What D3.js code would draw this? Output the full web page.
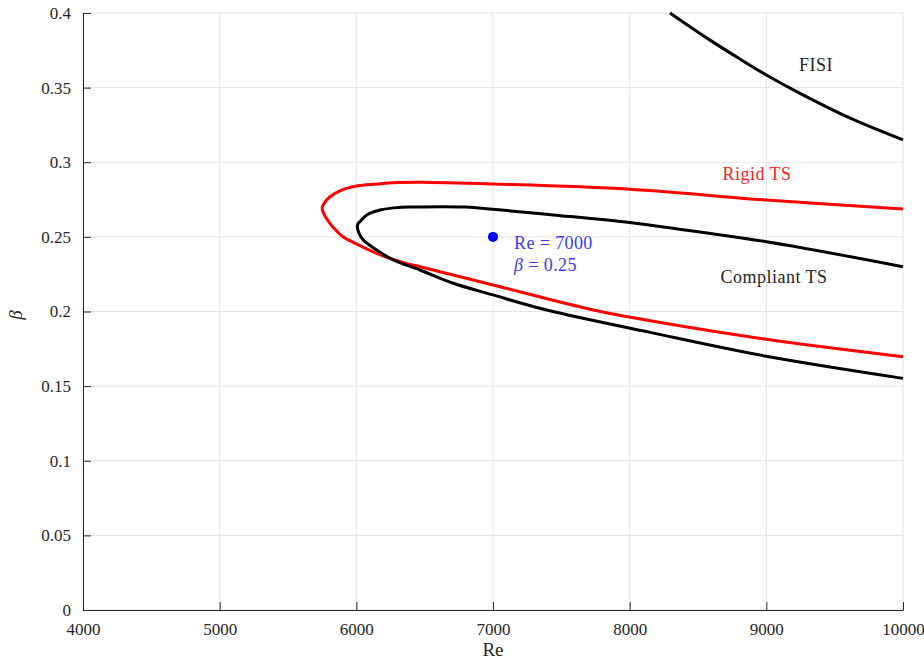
<!DOCTYPE html>
<html lang="en">
  <head>
    <meta charset="UTF-8" />
    <title>Stability map</title>
    <style>
      body { margin: 0; background: #fff; }
      svg text { font-family: "Liberation Serif", "DejaVu Serif", serif; }
    </style>
  </head>
  <body>
    <svg width="924" height="661"></svg>
    <script src="https://cdnjs.cloudflare.com/ajax/libs/d3/7.8.5/d3.min.js"></script>
    <script>
      // curves, [Re, beta]
      var fisi = [
        [8295, 0.4], [8560, 0.3835], [8810, 0.369], [9000, 0.3585],
        [9250, 0.346], [9610, 0.3297], [10000, 0.315]
      ];
      var rigidTS = [
        [10000, 0.2687], [9000, 0.2747], [8000, 0.2819], [7000, 0.2854], [6466, 0.2866],
        [6270, 0.2863], [6150, 0.2854], [6003, 0.2841], [5880, 0.2809], [5807, 0.2769],
        [5765, 0.2725], [5750, 0.2693], [5765, 0.2650], [5807, 0.2591], [5850, 0.2545],
        [5902, 0.2501], [6003, 0.2452], [6150, 0.2390], [6280, 0.2345], [6393, 0.2315],
        [6466, 0.2300], [7000, 0.2178], [7734, 0.2010], [8150, 0.1938], [9000, 0.1814],
        [10000, 0.1697]
      ];
      var compliantTS = [
        [10000, 0.2300], [9000, 0.2468], [8222, 0.2569], [8000, 0.2596], [7441, 0.2647],
        [7000, 0.2685], [6800, 0.2700], [6400, 0.2700], [6295, 0.2696], [6173, 0.2680],
        [6076, 0.2647], [6030, 0.2605], [6015, 0.2591], [6007, 0.2568], [6020, 0.2524],
        [6051, 0.2479], [6149, 0.2412], [6271, 0.2345], [6466, 0.2278], [6710, 0.2189],
        [7000, 0.2111], [7393, 0.2010], [8149, 0.1860], [9000, 0.1700], [10000, 0.1552]
      ];
      var point = [7000, 0.25];
      var xTicks = [4000, 5000, 6000, 7000, 8000, 9000, 10000];
      var yTicks = [0, 0.05, 0.1, 0.15, 0.2, 0.25, 0.3, 0.35, 0.4];

      var svg = d3.select("svg");
      var x = d3.scaleLinear().domain([4000, 10000]).range([83, 903]);
      var y = d3.scaleLinear().domain([0, 0.4]).range([610, 13]);
      var axisColor = "#262626";
      var serif = '"Liberation Serif", "DejaVu Serif", serif';

      // grid
      svg.append("g").selectAll("line").data(xTicks).enter().append("line")
        .attr("x1", d => x(d)).attr("x2", d => x(d))
        .attr("y1", y(0)).attr("y2", y(0.4))
        .attr("stroke", "#e5e5e5").attr("stroke-width", 1);
      svg.append("g").selectAll("line").data(yTicks).enter().append("line")
        .attr("x1", x(4000)).attr("x2", x(10000))
        .attr("y1", d => y(d)).attr("y2", d => y(d))
        .attr("stroke", "#e5e5e5").attr("stroke-width", 1);

      // axes, ticks pointing inward
      var xAxis = svg.append("g").attr("transform", "translate(0," + y(0) + ")")
        .call(d3.axisBottom(x).tickValues(xTicks).tickSizeInner(-8).tickSizeOuter(0)
          .tickFormat(d3.format("d")).tickPadding(13));
      var yAxis = svg.append("g").attr("transform", "translate(" + x(4000) + ",0)")
        .call(d3.axisLeft(y).tickValues(yTicks).tickSizeInner(-8).tickSizeOuter(0)
          .tickFormat(d => d === 0 ? "0" : String(+d.toFixed(2))).tickPadding(12));
      [xAxis, yAxis].forEach(function (g) {
        g.attr("font-family", serif).attr("font-size", 17);
        g.select(".domain").attr("stroke", axisColor);
        g.selectAll(".tick line").attr("stroke", axisColor);
        g.selectAll(".tick text").attr("fill", axisColor);
      });

      var smooth = d3.line().x(d => x(d[0])).y(d => y(d[1]))
        .curve(d3.curveCatmullRom.alpha(0.5));

      svg.append("path").datum(fisi).attr("d", smooth)
        .attr("fill", "none").attr("stroke", "#000").attr("stroke-width", 3);
      svg.append("path").datum(rigidTS).attr("d", smooth)
        .attr("fill", "none").attr("stroke", "#ff0000").attr("stroke-width", 3)
        .attr("stroke-linejoin", "round");
      svg.append("path").datum(compliantTS).attr("d", smooth)
        .attr("fill", "none").attr("stroke", "#000").attr("stroke-width", 3)
        .attr("stroke-linejoin", "round");

      svg.append("circle").attr("cx", x(point[0])).attr("cy", y(point[1]))
        .attr("r", 5).attr("fill", "#0000ff");

      var blue = "#3a3aff";
      svg.append("text").attr("x", 514).attr("y", 249).attr("fill", blue)
        .style("font-size", "18px").style("letter-spacing", "0.4px").text("Re = 7000");
      var bt = svg.append("text").attr("x", 514).attr("y", 271).attr("fill", blue)
        .style("font-size", "18px").style("letter-spacing", "0.4px");
      bt.append("tspan").style("font-style", "italic").text("β");
      bt.append("tspan").text(" = 0.25");

      svg.append("text").attr("x", 816).attr("y", 71).attr("text-anchor", "middle")
        .attr("fill", axisColor).style("font-size", "18px").style("letter-spacing", "0.5px").text("FISI");
      svg.append("text").attr("x", 757).attr("y", 180).attr("text-anchor", "middle")
        .attr("fill", "#ff2020").style("font-size", "18px").style("letter-spacing", "0.5px").text("Rigid TS");
      svg.append("text").attr("x", 774).attr("y", 283).attr("text-anchor", "middle")
        .attr("fill", axisColor).style("font-size", "18px").style("letter-spacing", "0.5px").text("Compliant TS");

      // axis labels
      svg.append("text").attr("x", 493).attr("y", 656).attr("text-anchor", "middle")
        .attr("fill", axisColor).style("font-size", "19px").text("Re");
      svg.append("text").attr("transform", "translate(22,315) rotate(-90)")
        .attr("text-anchor", "middle").attr("fill", axisColor)
        .style("font-size", "19px").style("font-style", "italic").text("β");
    </script>
  </body>
</html>
